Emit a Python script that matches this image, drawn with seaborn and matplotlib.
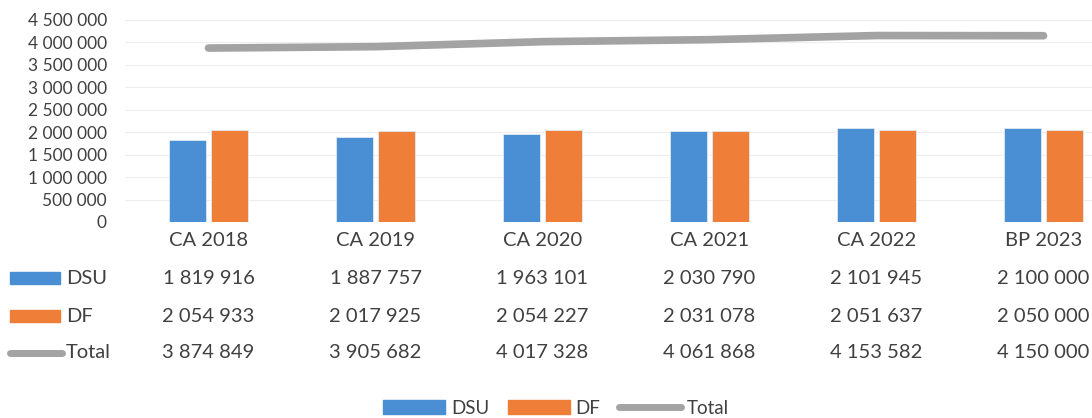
import numpy as np
import pandas as pd
import seaborn as sns
import matplotlib.pyplot as plt
from matplotlib.patches import Patch, Rectangle
from matplotlib.lines import Line2D
from matplotlib.transforms import blended_transform_factory

categories = ["CA 2018", "CA 2019", "CA 2020", "CA 2021", "CA 2022", "BP 2023"]
dsu = [1819916, 1887757, 1963101, 2030790, 2101945, 2100000]
df_vals = [2054933, 2017925, 2054227, 2031078, 2051637, 2050000]
total = [3874849, 3905682, 4017328, 4061868, 4153582, 4150000]
series_names = ["DSU", "DF", "Total"]

blue = "#4A8FD3"
orange = "#EE7E38"
gray = "#A3A3A3"
text_col = "#404040"

sns.set_style("white")
plt.rcParams["font.family"] = ["Lato", "DejaVu Sans"]

data = pd.DataFrame({
    "cat": categories * 2,
    "val": dsu + df_vals,
    "serie": ["DSU"] * 6 + ["DF"] * 6,
})

fig = plt.figure(figsize=(10.92, 4.18), dpi=100)
ax = fig.add_axes([125 / 1092, 1 - 222 / 418, (1092 - 125) / 1092, 202 / 418])

sns.barplot(data=data, x="cat", y="val", hue="serie", order=categories,
            palette=[blue, orange], saturation=1, width=0.5, gap=0.1,
            legend=False, ax=ax, edgecolor="#dfe8f2", linewidth=0.6)
sns.lineplot(x=np.arange(len(categories)), y=total, color=gray, linewidth=5.5,
             solid_capstyle="round", ax=ax)

ax.set_xlim(-0.5, -0.5 + 967 / 167)
ax.set_ylim(0, 4500000)
ax.set_yticks(np.arange(0, 4500001, 500000))
ax.set_yticklabels([f"{int(v):,}".replace(",", " ") for v in ax.get_yticks()],
                   fontsize=12.5, color=text_col)
ax.tick_params(axis="y", length=0, pad=13)
ax.set_xticks([])
ax.set_xlabel("")
ax.set_ylabel("")
ax.yaxis.grid(True, color="#eeeeee", linewidth=0.8)
ax.set_axisbelow(True)
for s in ax.spines.values():
    s.set_visible(False)

# data table under the chart
tr = blended_transform_factory(ax.transData, fig.transFigure)
rows = [dsu, df_vals, total]
row_y = [1 - 278 / 418, 1 - 316 / 418, 1 - 353 / 418]
for i, c in enumerate(categories):
    ax.text(i, 1 - 240 / 418, c, transform=tr, ha="center", va="center",
            fontsize=14.5, color=text_col, clip_on=False)
    for vals, y in zip(rows, row_y):
        ax.text(i, y, f"{vals[i]:,}".replace(",", " "), transform=tr,
                ha="center", va="center", fontsize=14.5, color=text_col,
                clip_on=False)

# row headers with legend keys
fig.patches.append(Rectangle((10 / 1092, row_y[0] - 6 / 418), 50 / 1092, 12 / 418,
                             transform=fig.transFigure, color=blue))
fig.patches.append(Rectangle((10 / 1092, row_y[1] - 6 / 418), 50 / 1092, 12 / 418,
                             transform=fig.transFigure, color=orange))
fig.lines.append(Line2D([10 / 1092, 62 / 1092], [row_y[2], row_y[2]],
                        transform=fig.transFigure, color=gray, linewidth=5,
                        solid_capstyle="round"))
for name, y in zip(series_names, row_y):
    fig.text(66 / 1092, y, name, ha="left", va="center", fontsize=14.5,
             color=text_col)

# bottom legend
handles = [Patch(color=blue), Patch(color=orange),
           Line2D([0], [0], color=gray, linewidth=5)]
fig.legend(handles, series_names, loc="center", bbox_to_anchor=(556 / 1092, 1 - 408 / 418),
           ncol=3, frameon=False, fontsize=13.5, handlelength=3.3,
           handleheight=0.8, handletextpad=0.3, columnspacing=1.0,
           labelcolor=text_col)

fig.savefig("out.png", dpi=100)
